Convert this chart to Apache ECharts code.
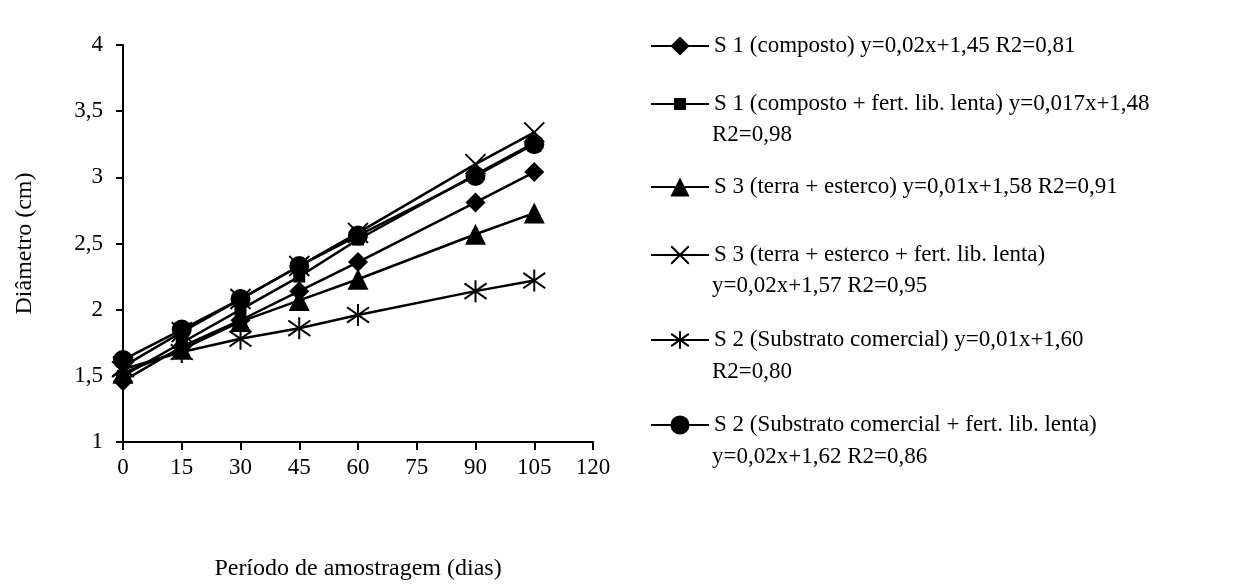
<!DOCTYPE html>
<html>
<head>
<meta charset="utf-8">
<script src="https://cdn.jsdelivr.net/npm/echarts@6/dist/echarts.min.js"></script>
<style>
  html, body { margin: 0; padding: 0; background: #fff; }
  #chart { width: 1239px; height: 586px; }
</style>
</head>
<body>
<div id="chart"></div>
<script>
// Sampling days
const days = [0, 15, 30, 45, 60, 90, 105];

// Stem diameter (cm) per treatment
const s1Composto      = [1.46, 1.72, 1.92, 2.14, 2.36, 2.81, 3.04];
const s1CompostoFert  = [1.50, 1.75, 2.00, 2.25, 2.53, 3.02, 3.26];
const s3Terra         = [1.52, 1.70, 1.91, 2.07, 2.23, 2.57, 2.73];
const s3TerraFert     = [1.57, 1.83, 2.08, 2.33, 2.58, 3.10, 3.34];
const s2Comercial     = [1.55, 1.68, 1.78, 1.86, 1.96, 2.14, 2.22];
const s2ComercialFert = [1.62, 1.85, 2.08, 2.33, 2.56, 3.01, 3.25];

// Legend labels: first line goes in the legend, the rest are continuation lines
const labels = [
  ['S 1 (composto) y=0,02x+1,45 R2=0,81'],
  ['S 1 (composto + fert. lib. lenta) y=0,017x+1,48', 'R2=0,98'],
  ['S 3 (terra + esterco) y=0,01x+1,58 R2=0,91'],
  ['S 3 (terra + esterco + fert. lib. lenta)', 'y=0,02x+1,57 R2=0,95'],
  ['S 2 (Substrato comercial) y=0,01x+1,60', 'R2=0,80'],
  ['S 2 (Substrato comercial + fert. lib. lenta)', 'y=0,02x+1,62 R2=0,86']
];

const xTicks = [0, 15, 30, 45, 60, 75, 90, 105, 120];
const yTicks = [1, 1.5, 2, 2.5, 3, 3.5, 4];

const FONT = 'Liberation Serif';
const FS = 23;

const crossPath = 'path://M0,0L10,10M10,0L0,10';
const starPath = 'path://M5,0L5,10M0,1.5L10,8.5M10,1.5L0,8.5';

const values = [s1Composto, s1CompostoFert, s3Terra, s3TerraFert, s2Comercial, s2ComercialFert];
const markers = [
  { symbol: 'diamond', size: 20, legendSize: 24, stroke: false },
  { symbol: 'rect', size: 12, legendSize: 15, stroke: false },
  { symbol: 'triangle', size: 21, legendSize: 24, stroke: false },
  { symbol: crossPath, size: 20, legendSize: 22, stroke: true },
  { symbol: starPath, size: 22, legendSize: 22, stroke: true },
  { symbol: 'circle', size: 20, legendSize: 24, stroke: false }
];

// First-line centres of the legend entries, and continuation-line centres
const legendRows = [46, 104, 187, 255, 340, 425];
const contRows = [null, 135, null, 286, 372, 457];

const series = values.map((vals, i) => {
  const m = markers[i];
  return {
    name: labels[i][0],
    type: 'line',
    data: days.map((d, k) => [d, vals[k]]),
    symbol: m.symbol,
    symbolSize: m.size,
    showAllSymbol: true,
    lineStyle: { color: '#000', width: 2.5 },
    itemStyle: m.stroke
      ? { color: '#000', borderColor: '#000', borderWidth: 2 }
      : { color: '#000', borderWidth: 0 },
    z: 2 + i,
    animation: false
  };
});

const legends = labels.map((lab, i) => {
  const m = markers[i];
  return {
    data: [lab[0]],
    left: 650,
    top: legendRows[i] - 12,
    padding: 0,
    itemWidth: 58,
    itemHeight: m.legendSize,
    itemGap: 0,
    selectedMode: false,
    lineStyle: { color: '#000', width: 2 },
    textStyle: { fontFamily: FONT, fontSize: FS, color: '#000', lineHeight: 24 }
  };
});

const graphics = [];
labels.forEach((lab, i) => {
  if (lab.length > 1) {
    graphics.push({
      type: 'text',
      x: 712,
      y: contRows[i],
      style: {
        text: lab[1],
        font: FS + 'px "' + FONT + '"',
        fill: '#000',
        verticalAlign: 'middle'
      }
    });
  }
});

const fmt = v => String(v).replace('.', ',');

const chart = echarts.init(document.getElementById('chart'));
chart.setOption({
  backgroundColor: '#fff',
  animation: false,
  grid: { left: 123, right: 646, top: 45, bottom: 144, containLabel: false },
  legend: legends,
  graphic: graphics,
  xAxis: {
    type: 'value',
    min: xTicks[0],
    max: xTicks[xTicks.length - 1],
    interval: 15,
    name: 'Período de amostragem (dias)',
    nameLocation: 'middle',
    nameGap: 115,
    nameTextStyle: { fontFamily: FONT, fontSize: 24, color: '#000' },
    axisLine: { show: true, lineStyle: { color: '#000', width: 2 } },
    axisTick: { show: true, length: 8, lineStyle: { color: '#000', width: 2 } },
    axisLabel: { fontFamily: FONT, fontSize: FS, color: '#000', margin: 14, formatter: fmt },
    splitLine: { show: false }
  },
  yAxis: {
    type: 'value',
    min: yTicks[0],
    max: yTicks[yTicks.length - 1],
    interval: 0.5,
    name: 'Diâmetro (cm)',
    nameLocation: 'middle',
    nameGap: 86,
    nameTextStyle: { fontFamily: FONT, fontSize: 24, color: '#000' },
    axisLine: { show: true, lineStyle: { color: '#000', width: 2 } },
    axisTick: { show: true, length: 7, lineStyle: { color: '#000', width: 2 } },
    axisLabel: { fontFamily: FONT, fontSize: FS, color: '#000', margin: 20, formatter: fmt },
    splitLine: { show: false }
  },
  series: series
});
</script>
</body>
</html>
